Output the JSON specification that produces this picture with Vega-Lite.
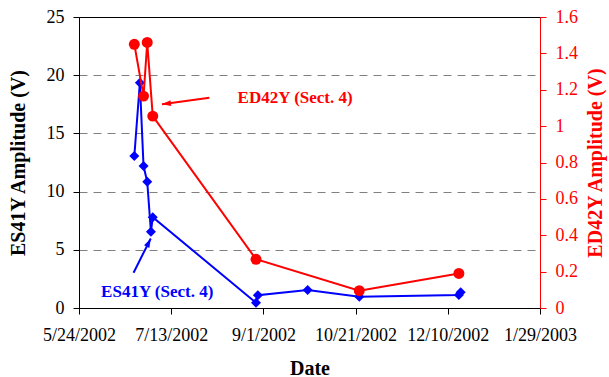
{
  "$schema": "https://vega.github.io/schema/vega-lite/v6.json",
  "width": 461,
  "height": 291,
  "autosize": {"type": "none"},
  "padding": {"left": 79, "top": 17, "right": 69, "bottom": 69},
  "background": "white",
  "config": {
    "view": {"stroke": "black", "strokeWidth": 1},
    "font": "Liberation Serif, Times New Roman, serif",
    "axis": {
      "labelFont": "Liberation Serif, Times New Roman, serif",
      "labelFontSize": 18,
      "labelColor": "black",
      "titleFont": "Liberation Serif, Times New Roman, serif",
      "titleFontSize": 20,
      "titleFontWeight": "bold",
      "titleColor": "black",
      "domainColor": "black",
      "tickColor": "black",
      "tickSize": 6,
      "grid": false,
      "labelFlush": false,
      "labelOverlap": false
    }
  },
  "datasets": {
    "es41y": [
      {"date": "2002/06/23", "v": 13.05},
      {"date": "2002/06/26", "v": 19.35},
      {"date": "2002/06/28", "v": 12.2},
      {"date": "2002/06/30", "v": 10.85},
      {"date": "2002/07/02", "v": 6.55},
      {"date": "2002/07/03", "v": 7.8},
      {"date": "2002/08/28", "v": 0.45},
      {"date": "2002/08/29", "v": 1.1},
      {"date": "2002/09/25", "v": 1.55},
      {"date": "2002/10/23", "v": 0.97},
      {"date": "2002/12/16", "v": 1.12},
      {"date": "2002/12/17", "v": 1.35}
    ],
    "ed42y": [
      {"date": "2002/06/23", "r": 1.45},
      {"date": "2002/06/28", "r": 1.165},
      {"date": "2002/06/30", "r": 1.46},
      {"date": "2002/07/03", "r": 1.055},
      {"date": "2002/08/28", "r": 0.268},
      {"date": "2002/10/23", "r": 0.095},
      {"date": "2002/12/16", "r": 0.19}
    ],
    "arrows": [
      {"series": "ES41Y", "date": "2002/07/01 22:00", "v": 5.97, "date2": "2002/06/22 14:00", "v2": 3.03},
      {"series": "ED42Y", "date": "2002/07/08 00:00", "v": 17.5, "date2": "2002/08/02 17:00", "v2": 18.07}
    ],
    "notes": [
      {"series": "ES41Y", "label": "ES41Y (Sect. 4)", "date": "2002/07/05 10:00", "v": 1.4},
      {"series": "ED42Y", "label": "ED42Y (Sect. 4)", "date": "2002/09/18 05:00", "v": 18.0}
    ]
  },
  "encoding": {
    "x": {
      "field": "date",
      "type": "temporal",
      "scale": {
        "domain": [{"year": 2002, "month": 5, "date": 24}, {"year": 2003, "month": 1, "date": 29}],
        "nice": false
      },
      "axis": {
        "title": "Date",
        "format": "%-m/%-d/%Y",
        "values": [
          {"year": 2002, "month": 5, "date": 24},
          {"year": 2002, "month": 7, "date": 13},
          {"year": 2002, "month": 9, "date": 1},
          {"year": 2002, "month": 10, "date": 21},
          {"year": 2002, "month": 12, "date": 10},
          {"year": 2003, "month": 1, "date": 29}
        ],
        "labelPadding": 12,
        "titlePadding": 14
      }
    }
  },
  "layer": [
    {
      "encoding": {
        "y": {
          "field": "v",
          "type": "quantitative",
          "scale": {"domain": [0, 25], "nice": false},
          "axis": {
            "title": "ES41Y Amplitude (V)",
            "values": [0, 5, 10, 15, 20, 25],
            "labelPadding": 9,
            "titlePadding": 18,
            "grid": true,
            "gridColor": "#808080",
            "gridDash": [8, 6],
            "gridWidth": 1,
            "gridOpacity": {"condition": {"test": "datum.value == 0 || datum.value == 25", "value": 0}, "value": 1}
          }
        }
      },
      "layer": [
        {
          "data": {"name": "es41y"},
          "mark": {"type": "line", "color": "#0000ff", "strokeWidth": 2}
        },
        {
          "data": {"name": "es41y"},
          "mark": {"type": "point", "shape": "diamond", "filled": true, "color": "#0000ff", "size": 100, "opacity": 1}
        },
        {
          "data": {"name": "arrows"},
          "mark": {"type": "rule", "strokeWidth": 2},
          "encoding": {
            "x2": {"field": "date2"},
            "y2": {"field": "v2"},
            "color": {"field": "series", "type": "nominal", "scale": {"domain": ["ES41Y", "ED42Y"], "range": ["#0000ff", "#ff0000"]}, "legend": null}
          }
        },
        {
          "data": {"name": "arrows"},
          "transform": [{"filter": "datum.series == 'ES41Y'"}],
          "mark": {"type": "point", "shape": "M0,0L-0.33,1L0.33,1Z", "filled": true, "color": "#0000ff", "size": 324, "angle": 26.7, "opacity": 1}
        },
        {
          "data": {"name": "arrows"},
          "transform": [{"filter": "datum.series == 'ED42Y'"}],
          "mark": {"type": "point", "shape": "M0,0L-0.33,1L0.33,1Z", "filled": true, "color": "#ff0000", "size": 324, "angle": 262.4, "opacity": 1}
        },
        {
          "data": {"name": "notes"},
          "mark": {"type": "text", "font": "Liberation Serif, Times New Roman, serif", "fontSize": 17, "fontWeight": "bold", "align": "center", "baseline": "middle"},
          "encoding": {
            "text": {"field": "label"},
            "color": {"field": "series", "type": "nominal", "scale": {"domain": ["ES41Y", "ED42Y"], "range": ["#0000ff", "#ff0000"]}, "legend": null}
          }
        }
      ]
    },
    {
      "encoding": {
        "y": {
          "field": "r",
          "type": "quantitative",
          "scale": {"domain": [0, 1.6], "nice": false},
          "axis": {
            "orient": "right",
            "title": "ED42Y Amplitude (V)",
            "titleAngle": 270,
            "titleBaseline": "top",
            "values": [0, 0.2, 0.4, 0.6, 0.8, 1, 1.2, 1.4, 1.6],
            "format": "~g",
            "labelPadding": 9,
            "titlePadding": 8,
            "domainColor": "#ff0000",
            "tickColor": "#ff0000",
            "labelColor": "#ff0000",
            "titleColor": "#ff0000"
          }
        }
      },
      "layer": [
        {
          "data": {"name": "ed42y"},
          "mark": {"type": "line", "color": "#ff0000", "strokeWidth": 2}
        },
        {
          "data": {"name": "ed42y"},
          "mark": {"type": "circle", "color": "#ff0000", "size": 120, "opacity": 1}
        }
      ]
    }
  ],
  "resolve": {"scale": {"y": "independent"}}
}
